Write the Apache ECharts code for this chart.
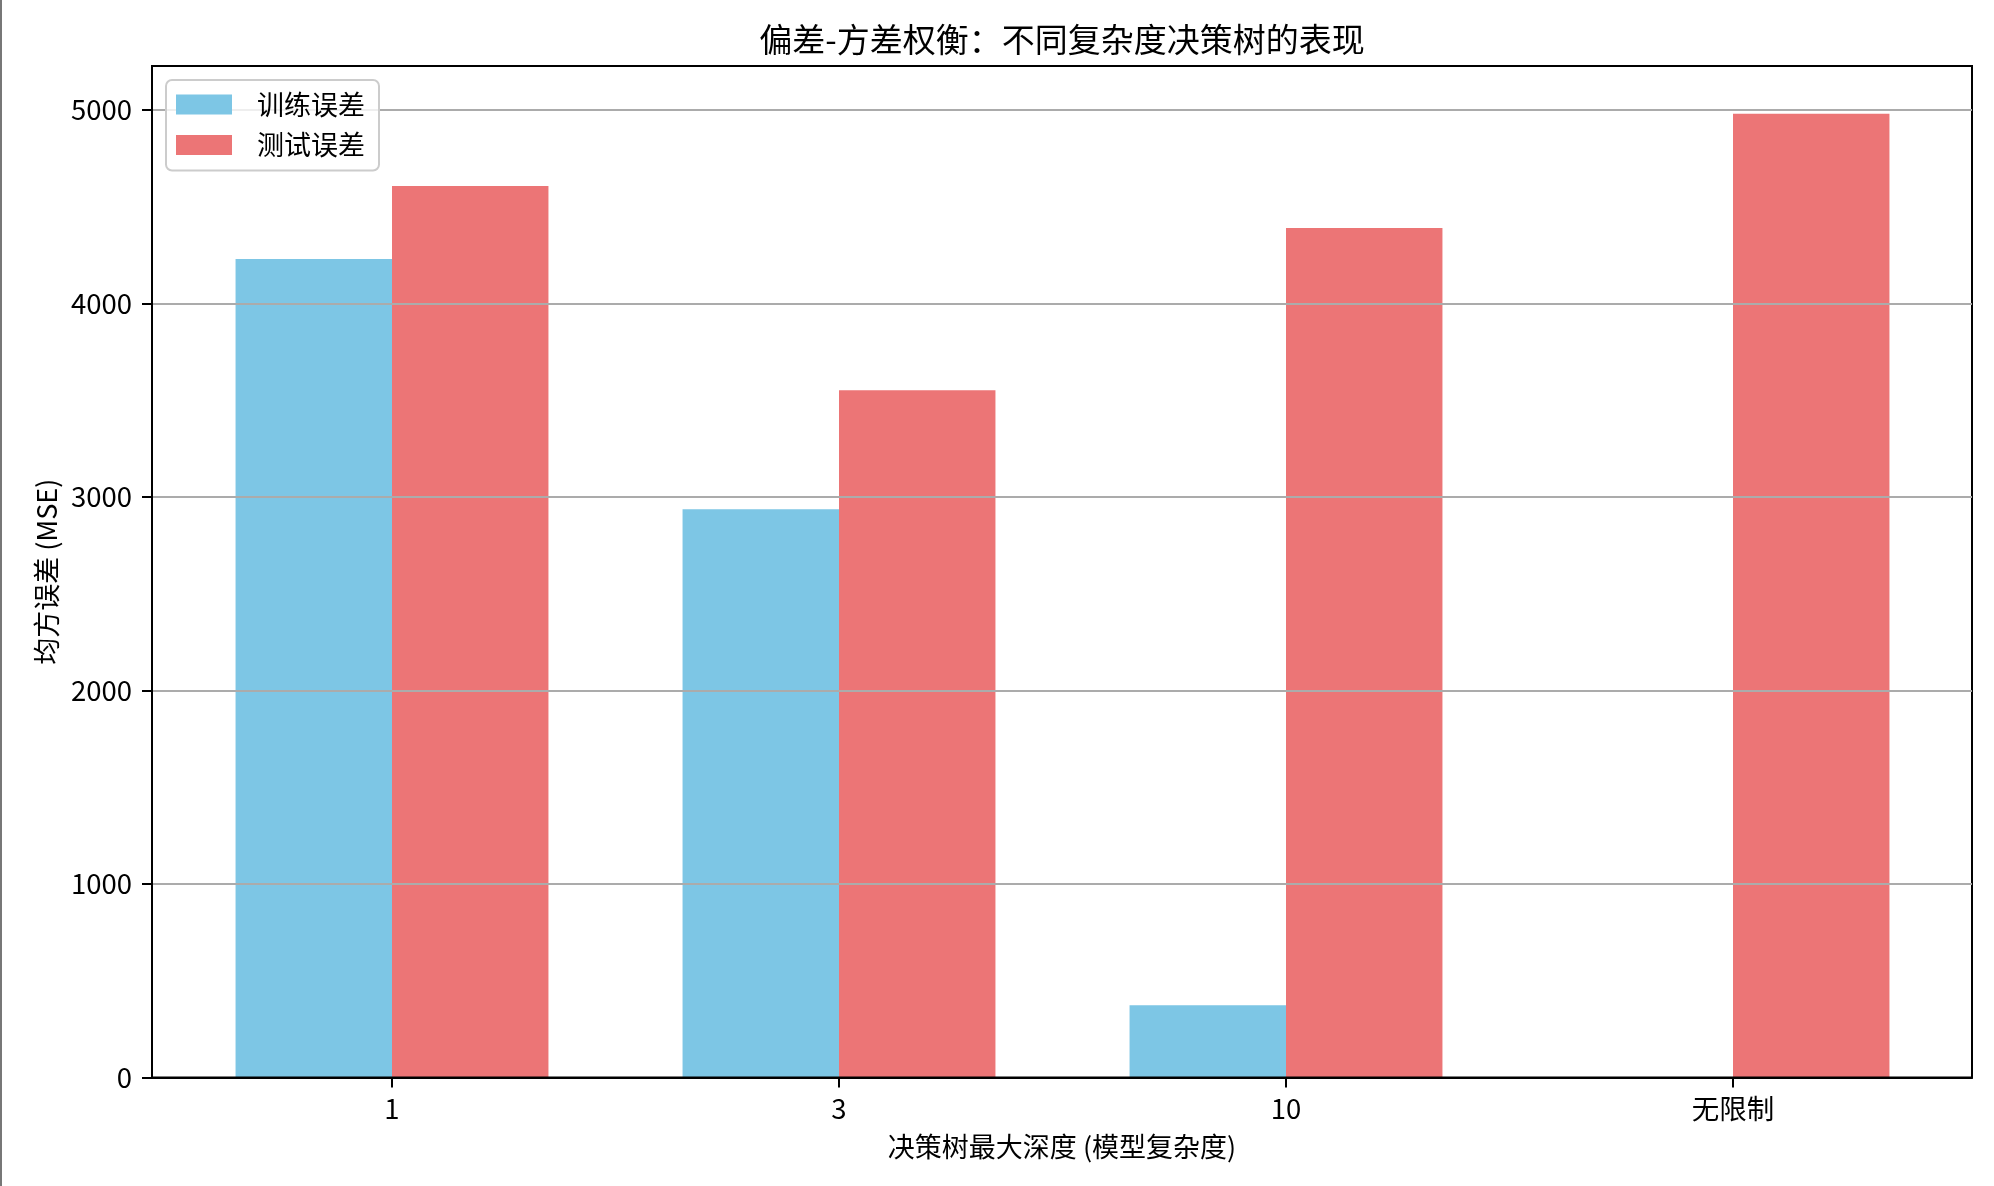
<!DOCTYPE html>
<html>
<head>
<meta charset="utf-8">
<script src="https://cdn.jsdelivr.net/npm/echarts@6/dist/echarts.min.js"></script>
<style>
html,body{margin:0;padding:0;background:#fff;}
#chart{width:1994px;height:1186px;}
</style>
</head>
<body>
<div id="chart"></div>
<script>
const categories = ['1', '3', '10', '无限制'];
const trainErr = [4230, 2936, 374, 0];
const testErr = [4607, 3551, 4390, 4980];
const yTicks = [0, 1000, 2000, 3000, 4000, 5000];
const seriesNames = ['训练误差', '测试误差'];
const titleText = '偏差-方差权衡：不同复杂度决策树的表现';
const xName = '决策树最大深度 (模型复杂度)';
const yName = '均方误差 (MSE)';

const FONT = '"Noto Sans CJK SC", "Noto Sans", sans-serif';
const yMax = 5227;

const chart = echarts.init(document.getElementById('chart'), null, {renderer: 'canvas'});
chart.setOption({
  backgroundColor: '#ffffff',
  animation: false,
  textStyle: {fontFamily: FONT, color: '#000'},
  graphic: [
    {
      type: 'rect', left: 0, top: 0, z: 100,
      shape: {width: 2, height: 1186},
      style: {fill: '#777'}
    },
    {
      type: 'text', x: 1062, y: 39, z: 100,
      style: {
        text: titleText, textAlign: 'center', textVerticalAlign: 'middle',
        fontFamily: FONT, fontSize: 33, fontWeight: 'normal', fill: '#000'
      }
    }
  ],
  legend: {
    orient: 'vertical',
    left: 166, top: 80,
    itemWidth: 56, itemHeight: 20, itemGap: 13.5,
    padding: [11, 14, 12, 10],
    backgroundColor: 'rgba(255,255,255,0.8)',
    borderColor: '#cccccc', borderWidth: 2, borderRadius: 6,
    icon: 'rect',
    z: 20,
    textStyle: {fontFamily: FONT, fontSize: 27, color: '#000', padding: [0, 0, 0, 20]},
    data: seriesNames
  },
  grid: [
    {left: 152, right: 22, top: 66, bottom: 108.5, show: true, borderColor: '#000', borderWidth: 2, backgroundColor: 'transparent', z: 4},
    {left: 168.5, right: 37.5, top: 66, bottom: 108.5}
  ],
  xAxis: [
    {gridIndex: 0, type: 'value', min: 0, max: 1, z: 5,
      axisLine: {show: true, lineStyle: {color: '#000', width: 2}},
      axisTick: {show: false}, axisLabel: {show: false}, splitLine: {show: false},
      name: xName, nameLocation: 'middle', nameGap: 56,
      nameTextStyle: {fontFamily: FONT, fontSize: 27, color: '#000'}
    },
    {gridIndex: 1, type: 'category', data: categories, boundaryGap: true, z: 5,
      axisLine: {show: false},
      axisTick: {show: true, alignWithLabel: true, length: 10, lineStyle: {color: '#000', width: 2}},
      axisLabel: {color: '#000', fontFamily: FONT, fontSize: 27.5, margin: 17},
      splitLine: {show: false}
    }
  ],
  yAxis: [
    {gridIndex: 0, type: 'value', min: 0, max: yMax, z: 5,
      axisLine: {show: true, lineStyle: {color: '#000', width: 2}},
      axisTick: {show: true, length: 10, lineStyle: {color: '#000', width: 2}, customValues: yTicks},
      axisLabel: {color: '#000', fontFamily: FONT, fontSize: 27.5, margin: 20, customValues: yTicks,
        formatter: function (v) { return String(v); }},
      splitLine: {show: true, lineStyle: {color: '#ababab', width: 2}},
      name: yName, nameLocation: 'middle', nameGap: 86, nameRotate: 90,
      nameTextStyle: {fontFamily: FONT, fontSize: 27, color: '#000'}
    },
    {gridIndex: 1, type: 'value', min: 0, max: yMax, show: false, splitLine: {show: false}}
  ],
  series: [
    {name: seriesNames[0], type: 'bar', xAxisIndex: 1, yAxisIndex: 1, data: trainErr,
      barGap: '0%', barCategoryGap: '30%', z: 2,
      itemStyle: {color: '#7dc6e5'}},
    {name: seriesNames[1], type: 'bar', xAxisIndex: 1, yAxisIndex: 1, data: testErr,
      barGap: '0%', barCategoryGap: '30%', z: 2,
      itemStyle: {color: '#ec7576'}}
  ]
});
</script>
</body>
</html>
